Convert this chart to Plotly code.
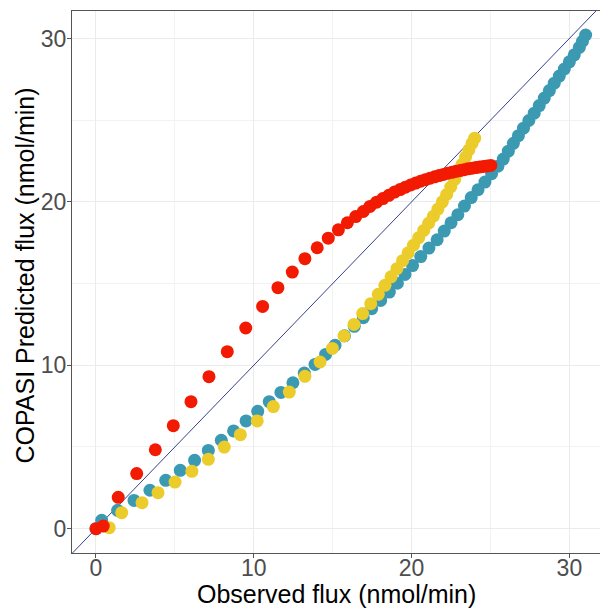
import plotly.graph_objects as go

# Observed vs. COPASI-predicted flux for three model variants (nmol/min)
blue_obs = [0.00, 0.36, 1.37, 2.41, 3.42, 4.42, 5.34, 6.25, 7.12, 7.94, 8.72, 9.51,
            10.25, 10.98, 11.72, 12.48, 13.20, 13.88, 14.55, 15.15, 15.75, 16.37,
            16.94, 17.47, 18.04, 18.59, 19.10, 19.58, 20.06, 20.58, 21.10, 21.62,
            22.07, 22.50, 22.93, 23.35, 23.78, 24.21, 24.65, 25.07, 25.47, 25.81,
            26.13, 26.45, 26.77, 27.09, 27.43, 27.77, 28.09, 28.41, 28.73, 29.04,
            29.36, 29.68, 30.00, 30.31, 30.63, 30.83, 31.03]
blue_pred = [0.00, 0.51, 1.12, 1.73, 2.35, 2.96, 3.57, 4.18, 4.79, 5.41, 5.98, 6.59,
             7.18, 7.77, 8.34, 8.93, 9.52, 10.05, 10.66, 11.22, 11.80, 12.38,
             12.91, 13.46, 13.97, 14.48, 15.02, 15.56, 16.10, 16.65, 17.17, 17.68,
             18.21, 18.72, 19.21, 19.74, 20.26, 20.74, 21.21, 21.72, 22.18, 22.62,
             23.10, 23.58, 24.05, 24.51, 24.98, 25.43, 25.89, 26.35, 26.81, 27.26,
             27.70, 28.13, 28.57, 29.00, 29.45, 29.83, 30.21]

yellow_obs = [0.84, 1.63, 2.92, 3.93, 5.01, 6.08, 7.12, 8.13, 9.15, 10.22, 11.24,
              12.25, 13.24, 14.20, 14.98, 15.72, 16.35, 16.90, 17.41, 17.89, 18.31,
              18.70, 19.07, 19.43, 19.78, 20.12, 20.45, 20.77, 21.08, 21.38, 21.67,
              21.95, 22.22, 22.48, 22.73, 22.97, 23.20, 23.42, 23.63, 23.83, 24.00]
yellow_pred = [0.06, 0.98, 1.59, 2.20, 2.85, 3.51, 4.24, 4.99, 5.75, 6.59, 7.47,
               8.36, 9.32, 10.20, 11.03, 11.79, 12.50, 13.16, 13.77, 14.34, 14.89,
               15.41, 15.91, 16.40, 16.88, 17.35, 17.81, 18.25, 18.69, 19.12, 19.56,
               20.00, 20.45, 20.91, 21.37, 21.83, 22.29, 22.74, 23.18, 23.58, 23.90]

red_obs = [0.00, 0.46, 1.41, 2.58, 3.76, 4.90, 6.02, 7.16, 8.32, 9.49, 10.56, 11.53,
           12.44, 13.24, 14.02, 14.72, 15.36, 15.93, 16.46, 16.94, 17.36, 17.78,
           18.18, 18.56, 18.92, 19.27, 19.61, 19.94, 20.26, 20.57, 20.87, 21.17,
           21.46, 21.74, 22.02, 22.29, 22.56, 22.82, 23.08, 23.33, 23.58, 23.83,
           24.07, 24.31, 24.55, 24.79, 25.02]
red_pred = [0.00, 0.16, 1.92, 3.37, 4.83, 6.30, 7.77, 9.30, 10.83, 12.28, 13.60, 14.75,
            15.70, 16.52, 17.19, 17.78, 18.29, 18.72, 19.10, 19.41, 19.72, 19.98,
            20.20, 20.40, 20.60, 20.75, 20.90, 21.03, 21.15, 21.26, 21.36, 21.45,
            21.53, 21.61, 21.68, 21.75, 21.81, 21.87, 21.92, 21.97, 22.02, 22.06,
            22.10, 22.14, 22.17, 22.20, 22.23]

identity = [-5, 40]

x_range = [-1.52, 31.94]
y_range = [-1.49, 31.68]
tick_vals = [0, 10, 20, 30]
tick_text = ["0", "10", "20", "30"]

FONT = "Liberation Sans, Arial, Helvetica, sans-serif"

fig = go.Figure()
fig.add_trace(go.Scatter(x=identity, y=identity, mode="lines",
                         line=dict(color="#34418C", width=1), hoverinfo="skip"))
for xs, ys, col in [(blue_obs, blue_pred, "#3B9AB2"),
                    (yellow_obs, yellow_pred, "#EBCC2A"),
                    (red_obs, red_pred, "#F21A00")]:
    fig.add_trace(go.Scatter(x=xs, y=ys, mode="markers",
                             marker=dict(color=col, size=13, line=dict(width=0))))

axis_common = dict(
    tickvals=tick_vals, ticktext=tick_text,
    showgrid=True, gridcolor="#EBEBEB", gridwidth=1,
    minor=dict(dtick=5, showgrid=True, gridcolor="#F2F2F2", gridwidth=1),
    zeroline=False, showline=True, linecolor="#555555", linewidth=1,
    ticks="outside", ticklen=4, tickcolor="#555555",
    tickfont=dict(family=FONT, size=23, color="#4D4D4D"),
)

fig.update_layout(
    width=600, height=610,
    margin=dict(l=72, r=0, t=11, b=57),
    paper_bgcolor="white", plot_bgcolor="white",
    showlegend=False,
    xaxis=dict(range=x_range, mirror=True, ticklabelstandoff=-10, **axis_common),
    yaxis=dict(range=y_range, ticklabelstandoff=-4, **axis_common),
    annotations=[
        dict(text="Observed flux (nmol/min)", xref="paper", yref="paper",
             x=0.5, y=0, xanchor="center", yanchor="middle", yshift=-41,
             showarrow=False, font=dict(family=FONT, size=25, color="black")),
        dict(text="COPASI Predicted flux (nmol/min)", xref="paper", yref="paper",
             x=0, y=0.512, xanchor="center", yanchor="middle", xshift=-47,
             textangle=-90, showarrow=False,
             font=dict(family=FONT, size=25, color="black")),
    ],
)

fig.write_html("out.html")
